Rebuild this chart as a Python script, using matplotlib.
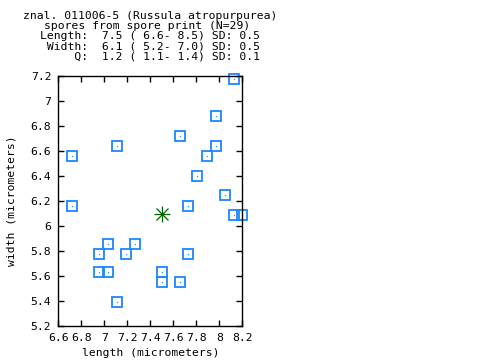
import matplotlib
matplotlib.use('Agg')
import matplotlib.pyplot as plt

lengths = [8.13, 7.97, 7.66, 7.11, 7.97, 6.72, 7.89, 7.81, 8.05, 6.72, 7.73,
           8.13, 8.20, 7.03, 7.27, 6.95, 7.19, 7.73, 6.95, 7.03, 7.50, 7.50,
           7.66, 7.11]
widths = [7.18, 6.88, 6.72, 6.64, 6.64, 6.56, 6.56, 6.40, 6.25, 6.16, 6.16,
          6.09, 6.09, 5.86, 5.86, 5.78, 5.78, 5.78, 5.63, 5.63, 5.63, 5.55,
          5.55, 5.39]
mean_length = 7.5
mean_width = 6.1

title_lines = [
    "znal. 011006-5 (Russula atropurpurea)",
    "spores from spore print (N=29) ",
    "Length:  7.5 ( 6.6- 8.5) SD: 0.5",
    " Width:  6.1 ( 5.2- 7.0) SD: 0.5",
    "     Q:  1.2 ( 1.1- 1.4) SD: 0.1",
]
xticks = [6.6, 6.8, 7.0, 7.2, 7.4, 7.6, 7.8, 8.0, 8.2]
xtick_labels = ["6.6", "6.8", "7", "7.2", "7.4", "7.6", "7.8", "8", "8.2"]
yticks = [5.2, 5.4, 5.6, 5.8, 6.0, 6.2, 6.4, 6.6, 6.8, 7.0, 7.2]
ytick_labels = ["5.2", "5.4", "5.6", "5.8", "6", "6.2", "6.4", "6.6", "6.8", "7", "7.2"]

plt.rcParams['font.family'] = 'DejaVu Sans Mono'
fs = 8.2
blue = '#1e86ff'

fig = plt.figure(figsize=(4.8, 3.6), dpi=100)
ax = fig.add_axes([58.3 / 480, 1 - 326 / 360, 184 / 480, 250 / 360])

ax.plot(lengths, widths, linestyle='none', marker='s', markersize=7.4,
        markerfacecolor='none', markeredgecolor=blue, markeredgewidth=1.3,
        clip_on=False)
ax.plot(lengths, widths, linestyle='none', marker='s', markersize=0.8,
        markerfacecolor=blue, markeredgewidth=0, clip_on=False)

ax.plot([mean_length], [mean_width], marker='+', markersize=11,
        color='#006400', markeredgewidth=0.9, clip_on=False)
ax.plot([mean_length], [mean_width], marker='x', markersize=8,
        color='#006400', markeredgewidth=0.9, clip_on=False)

ax.set_xlim(6.6, 8.2)
ax.set_ylim(5.2, 7.2)
ax.set_xticks(xticks)
ax.set_xticklabels(xtick_labels, fontsize=fs)
ax.set_yticks(yticks)
ax.set_yticklabels(ytick_labels, fontsize=fs)
ax.tick_params(direction='in', length=4, width=1, top=True, right=True)
ax.tick_params(axis='x', pad=5)
ax.tick_params(axis='y', pad=5)
for s in ax.spines.values():
    s.set_linewidth(1)

ax.set_xlabel("length (micrometers)", fontsize=fs, labelpad=3.5)
ax.set_ylabel("width (micrometers)", fontsize=fs, labelpad=10)

fig.text(150.5 / 480, 1 - 11 / 360, "\n".join(title_lines), fontsize=fs,
         ha='center', va='top', multialignment='center', linespacing=1.02)

fig.savefig('out.png', dpi=100)
